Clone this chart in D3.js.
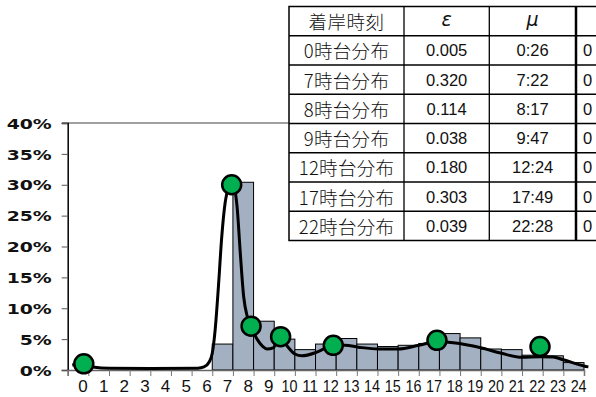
<!DOCTYPE html>
<html>
<head>
<meta charset="utf-8">
<script src="https://cdn.jsdelivr.net/npm/d3@7/dist/d3.min.js"></script>
<style>
  html, body { margin: 0; padding: 0; background: #fff; }
  svg { display: block; }
</style>
</head>
<body>
<svg id="chart" width="596" height="397"></svg>
<script>
// Hourly arrival share (%) per hour bin 0..24
const hourLabels = ["0","1","2","3","4","5","6","7","8","9","10","11","12","13","14","15","16","17","18","19","20","21","22","23","24"];
const hourShares = [0, 0, 0, 0, 0, 0, 0, 4.2, 30.4, 7.9, 5.0, 3.3, 4.2, 5.1, 4.2, 3.8, 4.0, 4.3, 5.9, 5.2, 3.4, 3.3, 2.4, 2.3, 1.2];

// Y axis ticks (%)
const yTickValues = [0, 5, 10, 15, 20, 25, 30, 35, 40];

// Fitted mixture curve (hour position, %)
const curveHours = [0.22, 0.78, 1.3, 2.0, 4.0, 6.3, 6.6, 6.85, 7.0, 7.14, 7.3, 7.46, 7.62, 7.8, 7.94, 8.06, 8.2, 8.36, 8.52, 8.7, 8.88, 9.17, 9.45, 9.65, 9.95, 10.31, 10.6, 11.0, 11.33, 11.98, 12.46, 12.86, 13.43, 14.07, 15.04, 16.0, 17.0, 17.88, 18.67, 20.0, 21.0, 22.0, 22.87, 23.5, 24.0, 25.0, 25.21];
const curveShares = [0.8, 1.0, 0.45, 0.3, 0.25, 0.3, 0.5, 1.3, 2.7, 6.5, 13.6, 21.6, 27.0, 29.6, 30.2, 29.6, 26.5, 18.8, 11.9, 8.6, 7.1, 5.0, 3.8, 3.4, 3.6, 5.3, 4.0, 2.6, 2.3, 2.8, 3.5, 4.0, 4.0, 3.7, 3.4, 3.4, 4.0, 4.6, 4.4, 3.6, 2.7, 2.05, 2.15, 2.1, 1.65, 0.65, 0.5];

// Component peaks (hour position, %)
const peakHours = [0.78, 7.94, 8.88, 10.31, 12.86, 17.88, 22.87];
const peakShares = [1.0, 30.0, 7.1, 5.4, 4.0, 4.8, 3.8];

// Parameter table
const tableHeader = ["着岸時刻", "ε", "μ", ""];
const componentNames = ["0時台分布", "7時台分布", "8時台分布", "9時台分布", "12時台分布", "17時台分布", "22時台分布"];
const epsilonValues = ["0.005", "0.320", "0.114", "0.038", "0.180", "0.303", "0.039"];
const muValues = ["0:26", "7:22", "8:17", "9:47", "12:24", "17:49", "22:28"];
const fourthColumn = ["0", "0", "0", "0", "0", "0", "0"];

const svg = d3.select("#chart");

const x = d3.scaleLinear().domain([0, 25]).range([67.7, 584]);
const y = d3.scaleLinear().domain([0, 40]).range([370, 123]);

// Top frame line at 40%
svg.append("line")
  .attr("x1", 62).attr("x2", 584)
  .attr("y1", y(40)).attr("y2", y(40))
  .attr("stroke", "#808080").attr("stroke-width", 1.5);

// Histogram bars
svg.append("g").selectAll("rect")
  .data(hourShares.map((v, i) => ({ i, v })).filter(d => d.v > 0))
  .join("rect")
  .attr("x", d => x(d.i))
  .attr("width", d => x(d.i + 1) - x(d.i))
  .attr("y", d => y(d.v))
  .attr("height", d => y(0) - y(d.v))
  .attr("fill", "#a3b0c1")
  .attr("stroke", "#000")
  .attr("stroke-width", 1);

// Y axis
const yAxis = svg.append("g")
  .attr("transform", `translate(${x(0)},0)`)
  .call(d3.axisLeft(y).tickValues(yTickValues).tickSize(6).tickFormat(d => d + "%"));
yAxis.select(".domain").attr("stroke", "#000").attr("stroke-width", 1.5);
yAxis.selectAll(".tick line").attr("stroke", "#555");
yAxis.selectAll(".tick text")
  .attr("x", -12.3)
  .attr("dy", "0.36em")
  .attr("transform", "scale(1.3,1)")
  .attr("font-family", "DejaVu Sans, sans-serif")
  .attr("font-weight", "bold")
  .attr("font-size", 14.5)
  .attr("fill", "#111");

// X axis
const xAxis = svg.append("g")
  .attr("transform", `translate(0,${y(0)})`)
  .call(d3.axisBottom(x).tickValues(d3.range(26)).tickSize(6).tickFormat(""));
xAxis.select(".domain").attr("stroke", "#666").attr("stroke-width", 1.5);
xAxis.selectAll(".tick line").attr("stroke", "#777");

const xLabels = svg.append("g").selectAll("text")
  .data(hourLabels)
  .join("text")
  .attr("x", (d, i) => x(i + 0.74))
  .attr("y", 392)
  .attr("text-anchor", "middle")
  .attr("font-family", "Liberation Sans, Arial, sans-serif")
  .attr("font-size", 17)
  .attr("fill", "#111")
  .text(d => d);
xLabels.filter(d => d.length > 1)
  .attr("textLength", 16)
  .attr("lengthAdjust", "spacingAndGlyphs");

// Mixture curve
const line = d3.line()
  .x((d, i) => x(curveHours[i]))
  .y(d => y(d))
  .curve(d3.curveMonotoneX);
svg.append("path")
  .datum(curveShares)
  .attr("d", line)
  .attr("fill", "none")
  .attr("stroke", "#000")
  .attr("stroke-width", 3)
  .attr("stroke-linejoin", "round");

// Peak markers
svg.append("g").selectAll("circle")
  .data(peakShares)
  .join("circle")
  .attr("cx", (d, i) => x(peakHours[i]))
  .attr("cy", d => y(d))
  .attr("r", 9.5)
  .attr("fill", "#00b050")
  .attr("stroke", "#000")
  .attr("stroke-width", 2.5);

// Parameter table
const colEdges = [289, 404, 489.3, 576, 662];
const rowTop = 6.5, rowH = 29.25;
const nRows = componentNames.length + 1;
const table = svg.append("g");

table.append("rect")
  .attr("x", colEdges[0]).attr("y", rowTop)
  .attr("width", colEdges[4] - colEdges[0]).attr("height", rowH * nRows)
  .attr("fill", "#fff").attr("stroke", "#000").attr("stroke-width", 1.5);

table.selectAll("line.row")
  .data(d3.range(1, nRows))
  .join("line")
  .attr("class", "row")
  .attr("x1", colEdges[0]).attr("x2", colEdges[4])
  .attr("y1", d => rowTop + d * rowH).attr("y2", d => rowTop + d * rowH)
  .attr("stroke", "#000").attr("stroke-width", 1.3);

table.selectAll("line.col")
  .data([1, 2, 3])
  .join("line")
  .attr("class", "col")
  .attr("x1", d => colEdges[d]).attr("x2", d => colEdges[d])
  .attr("y1", rowTop).attr("y2", rowTop + rowH * nRows)
  .attr("stroke", "#000").attr("stroke-width", d => d === 3 ? 2.5 : 1.3);

const colCenter = c => (colEdges[c] + colEdges[c + 1]) / 2;
const rowCenter = r => rowTop + r * rowH + rowH / 2;

// Header row
table.append("text")
  .attr("x", colCenter(0)).attr("y", rowCenter(0) + 8)
  .attr("text-anchor", "middle")
  .attr("font-family", "Noto Sans CJK JP, sans-serif")
  .attr("font-weight", 300)
  .attr("font-size", 18.5)
  .attr("letter-spacing", 0.5)
  .attr("fill", "#111")
  .text(tableHeader[0]);
[1, 2].forEach(c => {
  table.append("text")
    .attr("x", colCenter(c)).attr("y", rowCenter(0) + 5)
    .attr("text-anchor", "middle")
    .attr("font-family", "DejaVu Sans, sans-serif")
    .attr("font-style", "italic")
    .attr("font-size", 19)
    .attr("fill", "#111")
    .text(tableHeader[c]);
});

// Body rows
componentNames.forEach((name, r) => {
  const cy = rowCenter(r + 1);
  table.append("text")
    .attr("x", colCenter(0)).attr("y", cy + 8)
    .attr("text-anchor", "middle")
    .attr("font-family", "Noto Sans CJK JP, sans-serif")
    .attr("font-weight", 300)
    .attr("font-size", 18.5)
    .attr("letter-spacing", 0.3)
    .attr("fill", "#111")
    .text(name);
  table.append("text")
    .attr("x", colCenter(1)).attr("y", cy + 6)
    .attr("text-anchor", "middle")
    .attr("font-family", "Liberation Sans, Arial, sans-serif")
    .attr("font-size", 16.5)
    .attr("fill", "#111")
    .text(epsilonValues[r]);
  table.append("text")
    .attr("x", colCenter(2)).attr("y", cy + 6)
    .attr("text-anchor", "middle")
    .attr("font-family", "Liberation Sans, Arial, sans-serif")
    .attr("font-size", 16.5)
    .attr("fill", "#111")
    .text(muValues[r]);
  table.append("text")
    .attr("x", colEdges[3] + 7).attr("y", cy + 6)
    .attr("font-family", "Liberation Sans, Arial, sans-serif")
    .attr("font-size", 16.5)
    .attr("fill", "#111")
    .text(fourthColumn[r]);
});
</script>
</body>
</html>
